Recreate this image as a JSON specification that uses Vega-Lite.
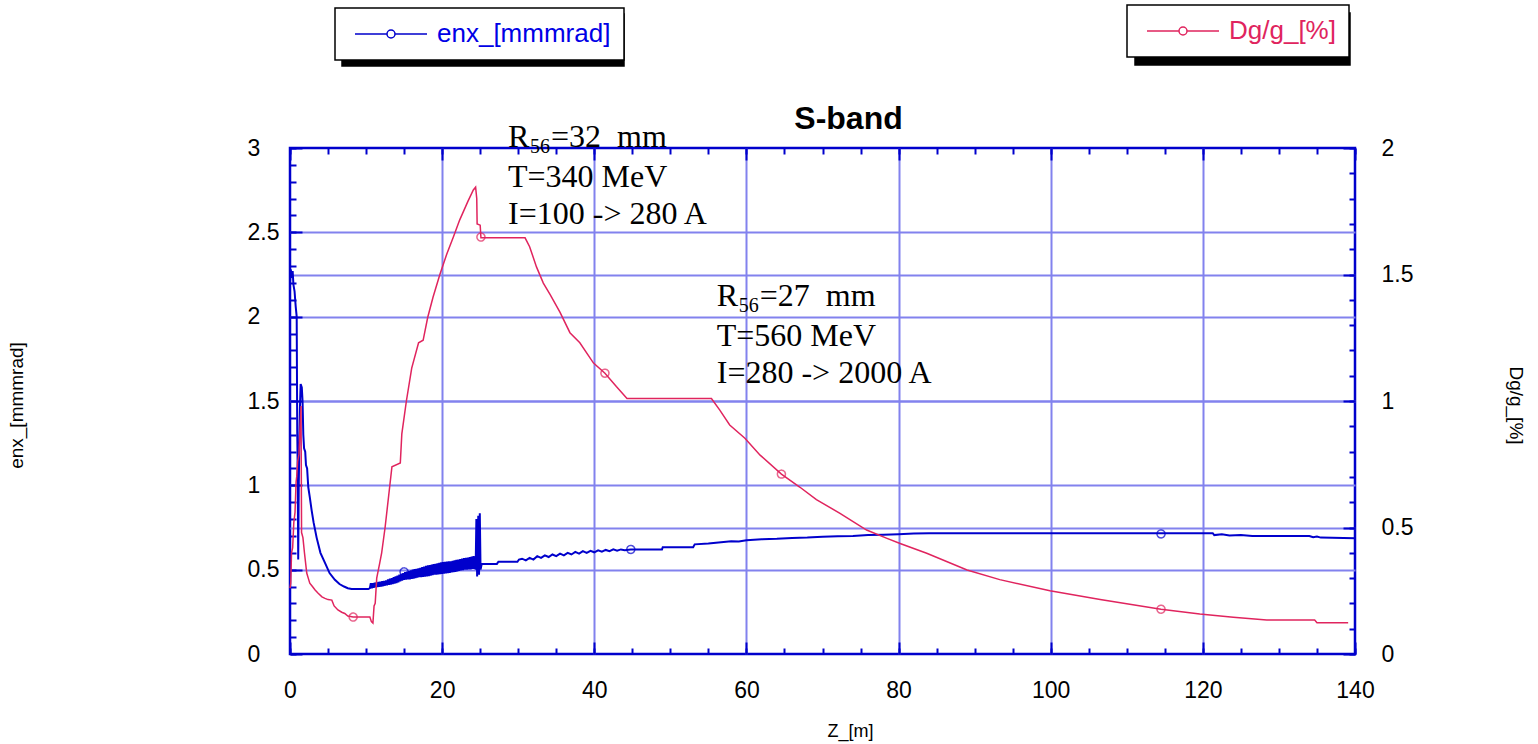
{
  "$schema": "https://vega.github.io/schema/vega-lite/v6.json",
  "width": 1065,
  "height": 506,
  "autosize": {"type": "none"},
  "padding": {"left": 290, "top": 148, "right": 183, "bottom": 90},
  "background": "white",
  "title": {"text": "S-band", "frame": "group", "anchor": "middle", "dx": 26, "offset": -157, "baseline": "alphabetic", "font": "Liberation Sans", "fontSize": 32, "fontWeight": "bold", "color": "black"},
  "datasets": {
    "enx": [
      {"z":0,"enx":2.2},{"z":0.1,"enx":2.28},{"z":0.25,"enx":2.23},{"z":0.35,"enx":2.27},{"z":0.45,"enx":2.19},{"z":0.6,"enx":2.15},{"z":0.75,"enx":2.06},{"z":0.88,"enx":2.0},{"z":0.95,"enx":1.32},{"z":1.0,"enx":1.15},{"z":1.08,"enx":0.56},{"z":1.15,"enx":1.0},{"z":1.3,"enx":1.45},{"z":1.4,"enx":1.6},{"z":1.55,"enx":1.58},{"z":1.65,"enx":1.5},{"z":1.75,"enx":1.3},{"z":1.85,"enx":1.22},{"z":2.0,"enx":1.2},{"z":2.1,"enx":1.12},{"z":2.25,"enx":1.1},{"z":2.4,"enx":0.99},{"z":2.6,"enx":0.93},{"z":2.85,"enx":0.85},{"z":3.1,"enx":0.78},{"z":3.5,"enx":0.69},{"z":4.0,"enx":0.6},{"z":4.6,"enx":0.54},{"z":5.2,"enx":0.48},{"z":5.9,"enx":0.44},{"z":6.5,"enx":0.415},{"z":7.1,"enx":0.4},{"z":7.6,"enx":0.39},{"z":8.1,"enx":0.385},{"z":10.3,"enx":0.385},
      {"z":10.5,"enx":0.39},{"z":10.625,"enx":0.42},{"z":10.75,"enx":0.39},{"z":10.875,"enx":0.42},{"z":11.0,"enx":0.393},{"z":11.125,"enx":0.423},{"z":11.25,"enx":0.395},{"z":11.375,"enx":0.425},{"z":11.5,"enx":0.397},{"z":11.625,"enx":0.427},{"z":11.75,"enx":0.398},{"z":11.875,"enx":0.429},
      {"z":12.0,"enx":0.4},{"z":12.125,"enx":0.432},{"z":12.25,"enx":0.402},{"z":12.375,"enx":0.434},{"z":12.5,"enx":0.405},{"z":12.625,"enx":0.436},{"z":12.75,"enx":0.407},{"z":12.875,"enx":0.442},
      {"z":13.0,"enx":0.41},{"z":13.125,"enx":0.446},{"z":13.25,"enx":0.412},{"z":13.375,"enx":0.45},{"z":13.5,"enx":0.415},{"z":13.625,"enx":0.455},{"z":13.75,"enx":0.417},{"z":13.875,"enx":0.46},
      {"z":14.0,"enx":0.42},{"z":14.125,"enx":0.465},{"z":14.25,"enx":0.425},{"z":14.375,"enx":0.47},{"z":14.5,"enx":0.43},{"z":14.625,"enx":0.475},{"z":14.75,"enx":0.435},{"z":14.875,"enx":0.48},
      {"z":15.0,"enx":0.44},{"z":15.125,"enx":0.485},{"z":15.25,"enx":0.441},{"z":15.375,"enx":0.488},{"z":15.5,"enx":0.442},{"z":15.625,"enx":0.492},{"z":15.75,"enx":0.443},{"z":15.875,"enx":0.496},
      {"z":16.0,"enx":0.445},{"z":16.125,"enx":0.5},{"z":16.25,"enx":0.447},{"z":16.375,"enx":0.503},{"z":16.5,"enx":0.45},{"z":16.625,"enx":0.505},{"z":16.75,"enx":0.452},{"z":16.875,"enx":0.508},
      {"z":17.0,"enx":0.455},{"z":17.125,"enx":0.511},{"z":17.25,"enx":0.456},{"z":17.375,"enx":0.515},{"z":17.5,"enx":0.457},{"z":17.625,"enx":0.518},{"z":17.75,"enx":0.459},{"z":17.875,"enx":0.522},
      {"z":18.0,"enx":0.46},{"z":18.125,"enx":0.525},{"z":18.25,"enx":0.462},{"z":18.375,"enx":0.527},{"z":18.5,"enx":0.465},{"z":18.625,"enx":0.53},{"z":18.75,"enx":0.467},{"z":18.875,"enx":0.533},
      {"z":19.0,"enx":0.47},{"z":19.125,"enx":0.535},{"z":19.25,"enx":0.471},{"z":19.375,"enx":0.538},{"z":19.5,"enx":0.472},{"z":19.625,"enx":0.54},{"z":19.75,"enx":0.474},{"z":19.875,"enx":0.543},
      {"z":20.0,"enx":0.475},{"z":20.125,"enx":0.545},{"z":20.25,"enx":0.476},{"z":20.375,"enx":0.546},{"z":20.5,"enx":0.478},{"z":20.625,"enx":0.548},{"z":20.75,"enx":0.479},{"z":20.875,"enx":0.549},
      {"z":21.0,"enx":0.48},{"z":21.125,"enx":0.55},{"z":21.25,"enx":0.483},{"z":21.375,"enx":0.553},{"z":21.5,"enx":0.485},{"z":21.625,"enx":0.555},{"z":21.75,"enx":0.487},{"z":21.875,"enx":0.558},
      {"z":22.0,"enx":0.49},{"z":22.125,"enx":0.56},{"z":22.25,"enx":0.492},{"z":22.375,"enx":0.563},{"z":22.5,"enx":0.495},{"z":22.625,"enx":0.565},{"z":22.75,"enx":0.497},{"z":22.875,"enx":0.568},
      {"z":23.0,"enx":0.5},{"z":23.125,"enx":0.57},{"z":23.25,"enx":0.5},{"z":23.375,"enx":0.572},{"z":23.5,"enx":0.501},{"z":23.625,"enx":0.575},{"z":23.75,"enx":0.502},{"z":23.875,"enx":0.577},
      {"z":24.0,"enx":0.505},{"z":24.125,"enx":0.58},{"z":24.25,"enx":0.505},{"z":24.35,"enx":0.58},
      {"z":24.4,"enx":0.5},{"z":24.5,"enx":0.8},{"z":24.6,"enx":0.46},{"z":24.75,"enx":0.82},{"z":24.85,"enx":0.47},{"z":24.95,"enx":0.835},{"z":25.05,"enx":0.5},{"z":25.2,"enx":0.534},
      {"z":27.2,"enx":0.534},{"z":27.4,"enx":0.547},{"z":29.9,"enx":0.547},{"z":30.1,"enx":0.56},{"z":30.5,"enx":0.565},{"z":31,"enx":0.555},{"z":31.5,"enx":0.57},{"z":32,"enx":0.56},{"z":32.5,"enx":0.58},{"z":33,"enx":0.57},{"z":33.5,"enx":0.585},{"z":34,"enx":0.575},{"z":34.5,"enx":0.59},{"z":35,"enx":0.58},{"z":35.5,"enx":0.595},{"z":36,"enx":0.585},{"z":36.5,"enx":0.6},{"z":37,"enx":0.59},{"z":37.5,"enx":0.605},{"z":38,"enx":0.595},{"z":38.5,"enx":0.61},{"z":39,"enx":0.6},{"z":39.5,"enx":0.612},{"z":40,"enx":0.603},{"z":40.5,"enx":0.615},{"z":41,"enx":0.607},{"z":41.5,"enx":0.617},{"z":42,"enx":0.61},{"z":42.5,"enx":0.62},{"z":43,"enx":0.612},{"z":43.5,"enx":0.62},{"z":44,"enx":0.615},{"z":44.8,"enx":0.62},{"z":48.9,"enx":0.62},{"z":49,"enx":0.633},{"z":53,"enx":0.633},{"z":53.2,"enx":0.65},{"z":55,"enx":0.655},{"z":56,"enx":0.66},{"z":57,"enx":0.664},{"z":58,"enx":0.668},{"z":59,"enx":0.667},{"z":60,"enx":0.675},{"z":62,"enx":0.68},{"z":64,"enx":0.683},{"z":66,"enx":0.688},{"z":68,"enx":0.69},{"z":70,"enx":0.695},{"z":72,"enx":0.698},{"z":74,"enx":0.7},{"z":76,"enx":0.705},{"z":78,"enx":0.707},{"z":80,"enx":0.71},{"z":82,"enx":0.714},{"z":84,"enx":0.716},{"z":121.3,"enx":0.716},{"z":121.5,"enx":0.705},{"z":122.5,"enx":0.71},{"z":123.5,"enx":0.703},{"z":125,"enx":0.705},{"z":126.5,"enx":0.7},{"z":134,"enx":0.7},{"z":134.5,"enx":0.692},{"z":135,"enx":0.697},{"z":135.5,"enx":0.69},{"z":140,"enx":0.686}
    ],
    "dg": [
      {"z":0,"dg":0.26},{"z":0.1,"dg":0.28},{"z":0.2,"dg":0.4},{"z":0.35,"dg":0.42},{"z":0.5,"dg":0.52},{"z":0.66,"dg":0.56},{"z":0.8,"dg":0.68},{"z":0.88,"dg":0.7},{"z":1.0,"dg":0.76},{"z":1.18,"dg":0.79},{"z":1.3,"dg":0.88},{"z":1.45,"dg":0.98},{"z":1.52,"dg":0.48},{"z":1.7,"dg":0.46},{"z":1.9,"dg":0.4},{"z":2.2,"dg":0.32},{"z":2.4,"dg":0.3},{"z":2.6,"dg":0.28},{"z":3.0,"dg":0.265},{"z":3.3,"dg":0.253},{"z":3.7,"dg":0.24},{"z":4.2,"dg":0.226},{"z":4.6,"dg":0.22},{"z":5.0,"dg":0.215},{"z":5.5,"dg":0.213},{"z":5.8,"dg":0.19},{"z":6.3,"dg":0.174},{"z":6.8,"dg":0.165},{"z":7.2,"dg":0.16},{"z":7.6,"dg":0.15},{"z":8.3,"dg":0.146},{"z":10.5,"dg":0.146},{"z":10.7,"dg":0.128},{"z":10.9,"dg":0.122},{"z":11.05,"dg":0.19},{"z":11.2,"dg":0.2},{"z":11.4,"dg":0.3},{"z":11.8,"dg":0.36},{"z":12.05,"dg":0.4},{"z":12.5,"dg":0.5},{"z":13.1,"dg":0.66},{"z":13.4,"dg":0.74},{"z":14.5,"dg":0.755},{"z":14.7,"dg":0.87},{"z":15.3,"dg":1.0},{"z":16.0,"dg":1.13},{"z":16.9,"dg":1.23},{"z":17.5,"dg":1.24},{"z":18.1,"dg":1.33},{"z":18.8,"dg":1.41},{"z":19.7,"dg":1.5},{"z":20.6,"dg":1.58},{"z":21.5,"dg":1.65},{"z":22.3,"dg":1.715},{"z":23.4,"dg":1.79},{"z":24.1,"dg":1.834},{"z":24.4,"dg":1.845},{"z":24.55,"dg":1.8},{"z":24.6,"dg":1.7},{"z":25.0,"dg":1.695},{"z":25.1,"dg":1.645},{"z":30.9,"dg":1.645},{"z":31.5,"dg":1.61},{"z":32.4,"dg":1.53},{"z":33.3,"dg":1.466},{"z":34.2,"dg":1.42},{"z":35.5,"dg":1.35},{"z":36.8,"dg":1.27},{"z":38.1,"dg":1.23},{"z":39.9,"dg":1.15},{"z":41.4,"dg":1.11},{"z":42.9,"dg":1.057},{"z":44.3,"dg":1.01},{"z":55.4,"dg":1.01},{"z":56.5,"dg":0.964},{"z":57.8,"dg":0.905},{"z":59.8,"dg":0.853},{"z":61.8,"dg":0.786},{"z":64.6,"dg":0.711},{"z":67,"dg":0.66},{"z":69.2,"dg":0.61},{"z":72.3,"dg":0.556},{"z":75.8,"dg":0.49},{"z":78.4,"dg":0.458},{"z":80.2,"dg":0.437},{"z":83.7,"dg":0.398},{"z":89,"dg":0.332},{"z":93.3,"dg":0.294},{"z":99.9,"dg":0.25},{"z":106.5,"dg":0.215},{"z":114.5,"dg":0.177},{"z":119.6,"dg":0.158},{"z":124,"dg":0.145},{"z":128.4,"dg":0.134},{"z":134.7,"dg":0.134},{"z":135,"dg":0.124},{"z":139.1,"dg":0.124}
    ],
    "enxMarks": [{"z":15.0,"enx":0.487},{"z":44.8,"enx":0.62},{"z":114.5,"enx":0.712}],
    "dgMarks": [{"z":8.3,"dg":0.146},{"z":25.1,"dg":1.648},{"z":41.4,"dg":1.11},{"z":64.6,"dg":0.711},{"z":114.5,"dg":0.177}],
    "notes": [{"z":28.66,"v":3.006,"tail":"=32\u00a0\u00a0mm"},{"z":56.1,"v":2.0635,"tail":"=27\u00a0\u00a0mm"}],
    "noteLines": [{"z":28.66,"v":2.769,"text":"T=340 MeV"},{"z":28.66,"v":2.549,"text":"I=100 -> 280 A"},{"z":56.1,"v":1.826,"text":"T=560 MeV"},{"z":56.1,"v":1.607,"text":"I=280 -> 2000 A"}]
  },
  "layer": [
    {
      "data": {"name": "enxMarks"},
      "mark": {"type": "point", "shape": "circle", "filled": false, "color": "#0000cc", "size": 64, "strokeWidth": 1.5},
      "encoding": {
        "x": {"field": "z", "type": "quantitative", "scale": {"domain": [0, 140], "nice": false},
              "axis": {"orient": "bottom", "values": [0,5,10,15,20,25,30,35,40,45,50,55,60,65,70,75,80,85,90,95,100,105,110,115,120,125,130,135,140], "tickSize": -6, "labels": false, "grid": false, "title": null}},
        "y": {"field": "enx", "type": "quantitative", "scale": {"domain": [0, 3], "nice": false},
              "axis": {"orient": "left", "values": [0,0.1,0.2,0.3,0.4,0.5,0.6,0.7,0.8,0.9,1,1.1,1.2,1.3,1.4,1.5,1.6,1.7,1.8,1.9,2,2.1,2.2,2.3,2.4,2.5,2.6,2.7,2.8,2.9,3], "tickSize": -6, "labels": false, "grid": false, "title": null}},
        "strokeDash": {"datum": "enx_[mmmrad]", "scale": {"range": [[1, 0]]},
              "legend": {"title": null, "orient": "none", "legendX": 52, "legendY": -134, "padding": 13, "labelExpr": "' '", "symbolType": "M-3.6,0H-0.4M-0.4,0A0.4,0.4,0,1,1,0.4,0A0.4,0.4,0,1,1,-0.4,0M0.4,0H3.6", "symbolSize": 400, "symbolStrokeWidth": 1.5, "symbolOffset": 30, "symbolFillColor": "black", "symbolStrokeColor": "black", "labelOffset": 199.2, "labelFont": "Liberation Sans", "labelFontSize": 26, "labelColor": "black", "labelLimit": 400, "strokeColor": "black", "fillColor": "black"}}
      }
    },
    {
      "data": {"name": "enx"},
      "mark": {"type": "line", "strokeWidth": 2},
      "encoding": {
        "x": {"field": "z", "type": "quantitative", "scale": {"domain": [0, 140], "nice": false},
              "axis": {"orient": "bottom", "values": [0,20,40,60,80,100,120,140], "format": "~r", "tickSize": -12, "labelPadding": 37, "labelFlush": false, "grid": true,
                       "gridOpacity": {"condition": {"test": "datum.value == 0 || datum.value == 140", "value": 0}, "value": 1},
                       "title": "Z_[m]", "titleX": 560, "titleY": 77, "titleBaseline": "middle", "titleFontSize": 18}},
        "y": {"field": "enx", "type": "quantitative", "scale": {"domain": [0, 3], "nice": false},
              "axis": {"orient": "left", "values": [0,0.5,1,1.5,2,2.5,3], "format": "~r", "tickSize": -12, "labelPadding": 55, "labelAlign": "left", "labelFlush": false, "grid": true,
                       "gridOpacity": {"condition": {"test": "datum.value == 0 || datum.value == 3", "value": 0}, "value": 1},
                       "title": "enx_[mmmrad]", "titleX": -274, "titleY": 257, "titleBaseline": "middle"}},
        "color": {"datum": "enx_[mmmrad]", "scale": {"range": ["#0000cc"]},
              "legend": {"title": null, "orient": "none", "legendX": 45, "legendY": -140, "padding": 13, "symbolType": "M-3.6,0H-0.4M-0.4,0A0.4,0.4,0,1,1,0.4,0A0.4,0.4,0,1,1,-0.4,0M0.4,0H3.6", "symbolSize": 400, "symbolStrokeWidth": 1.5, "symbolOffset": 30, "symbolFillColor": "white", "labelOffset": 33, "labelFont": "Liberation Sans", "labelFontSize": 26, "labelColor": "#0000e6", "labelLimit": 400, "strokeColor": "black", "fillColor": "white"}}
      }
    },
    {
      "data": {"name": "dgMarks"},
      "mark": {"type": "point", "shape": "circle", "filled": false, "color": "#e0245e", "size": 64, "strokeWidth": 1.5},
      "encoding": {
        "x": {"field": "z", "type": "quantitative", "scale": {"domain": [0, 140], "nice": false},
              "axis": {"orient": "top", "values": [0,5,10,15,20,25,30,35,40,45,50,55,60,65,70,75,80,85,90,95,100,105,110,115,120,125,130,135,140], "tickSize": -6, "labels": false, "grid": false, "title": null}},
        "y": {"field": "dg", "type": "quantitative", "scale": {"domain": [0, 2], "nice": false},
              "axis": {"orient": "right", "values": [0,0.1,0.2,0.3,0.4,0.5,0.6,0.7,0.8,0.9,1,1.1,1.2,1.3,1.4,1.5,1.6,1.7,1.8,1.9,2], "tickSize": -6, "labels": false, "grid": false, "title": null}},
        "strokeDash": {"datum": "Dg/g_[%]", "scale": {"range": [[1, 0]]},
              "legend": {"title": null, "orient": "none", "legendX": 845, "legendY": -135, "padding": 13, "labelExpr": "' '", "symbolType": "M-3.6,0H-0.4M-0.4,0A0.4,0.4,0,1,1,0.4,0A0.4,0.4,0,1,1,-0.4,0M0.4,0H3.6", "symbolSize": 400, "symbolStrokeWidth": 1.5, "symbolOffset": 30, "symbolFillColor": "black", "symbolStrokeColor": "black", "labelOffset": 132.7, "labelFont": "Liberation Sans", "labelFontSize": 26, "labelColor": "black", "labelLimit": 400, "strokeColor": "black", "fillColor": "black"}}
      }
    },
    {
      "data": {"name": "dg"},
      "mark": {"type": "line", "strokeWidth": 1.5},
      "encoding": {
        "x": {"field": "z", "type": "quantitative", "scale": {"domain": [0, 140], "nice": false},
              "axis": {"orient": "top", "values": [0,20,40,60,80,100,120,140], "tickSize": -12, "labels": false, "grid": false, "title": null}},
        "y": {"field": "dg", "type": "quantitative", "scale": {"domain": [0, 2], "nice": false},
              "axis": {"orient": "right", "values": [0,0.5,1,1.5,2], "format": "~r", "tickSize": -12, "labelPadding": 38, "labelFlush": false, "grid": true,
                       "gridOpacity": {"condition": {"test": "datum.value == 0 || datum.value == 2", "value": 0}, "value": 1},
                       "title": "Dg/g_[%]", "titleX": 160, "titleY": 257, "titleBaseline": "middle", "titleAngle": 90}},
        "color": {"datum": "Dg/g_[%]", "scale": {"range": ["#e0245e"]},
              "legend": {"title": null, "orient": "none", "legendX": 837, "legendY": -143, "padding": 13, "symbolType": "M-3.6,0H-0.4M-0.4,0A0.4,0.4,0,1,1,0.4,0A0.4,0.4,0,1,1,-0.4,0M0.4,0H3.6", "symbolSize": 400, "symbolStrokeWidth": 1.5, "symbolOffset": 30, "symbolFillColor": "white", "labelOffset": 33, "labelFont": "Liberation Sans", "labelFontSize": 26, "labelColor": "#e0245e", "labelLimit": 400, "strokeColor": "black", "fillColor": "white"}}
      }
    },
    {
      "data": {"name": "notes"},
      "mark": {"type": "text", "text": "R", "align": "left", "baseline": "alphabetic", "font": "Liberation Serif", "fontSize": 32, "color": "black"},
      "encoding": {
        "x": {"field": "z", "type": "quantitative", "scale": {"domain": [0, 140], "nice": false}, "axis": null},
        "y": {"field": "v", "type": "quantitative", "scale": {"domain": [0, 3], "nice": false}, "axis": null}
      }
    },
    {
      "data": {"name": "notes"},
      "mark": {"type": "text", "text": "56", "align": "left", "baseline": "alphabetic", "font": "Liberation Serif", "fontSize": 20, "dx": 22, "dy": 6, "color": "black"},
      "encoding": {
        "x": {"field": "z", "type": "quantitative", "scale": {"domain": [0, 140], "nice": false}, "axis": null},
        "y": {"field": "v", "type": "quantitative", "scale": {"domain": [0, 3], "nice": false}, "axis": null}
      }
    },
    {
      "data": {"name": "notes"},
      "mark": {"type": "text", "align": "left", "baseline": "alphabetic", "font": "Liberation Serif", "fontSize": 32, "dx": 43, "color": "black"},
      "encoding": {
        "x": {"field": "z", "type": "quantitative", "scale": {"domain": [0, 140], "nice": false}, "axis": null},
        "y": {"field": "v", "type": "quantitative", "scale": {"domain": [0, 3], "nice": false}, "axis": null},
        "text": {"field": "tail"}
      }
    },
    {
      "data": {"name": "noteLines"},
      "mark": {"type": "text", "align": "left", "baseline": "alphabetic", "font": "Liberation Serif", "fontSize": 32, "color": "black"},
      "encoding": {
        "x": {"field": "z", "type": "quantitative", "scale": {"domain": [0, 140], "nice": false}, "axis": null},
        "y": {"field": "v", "type": "quantitative", "scale": {"domain": [0, 3], "nice": false}, "axis": null},
        "text": {"field": "text"}
      }
    }
  ],
  "resolve": {
    "scale": {"y": "independent", "color": "independent", "strokeDash": "independent"},
    "legend": {"color": "independent", "strokeDash": "independent"}
  },
  "config": {
    "view": {"stroke": "#0000cc", "strokeWidth": 2.5},
    "axis": {"domain": false, "tickColor": "#0000cc", "tickWidth": 2, "labelFont": "Liberation Sans", "labelFontSize": 23, "labelColor": "black", "titleFont": "Liberation Sans", "titleFontSize": 19, "titleFontWeight": "normal", "titleColor": "black", "gridColor": "#8282ee", "gridWidth": 2},
    "legend": {"strokeWidth": 1.5}
  }
}
